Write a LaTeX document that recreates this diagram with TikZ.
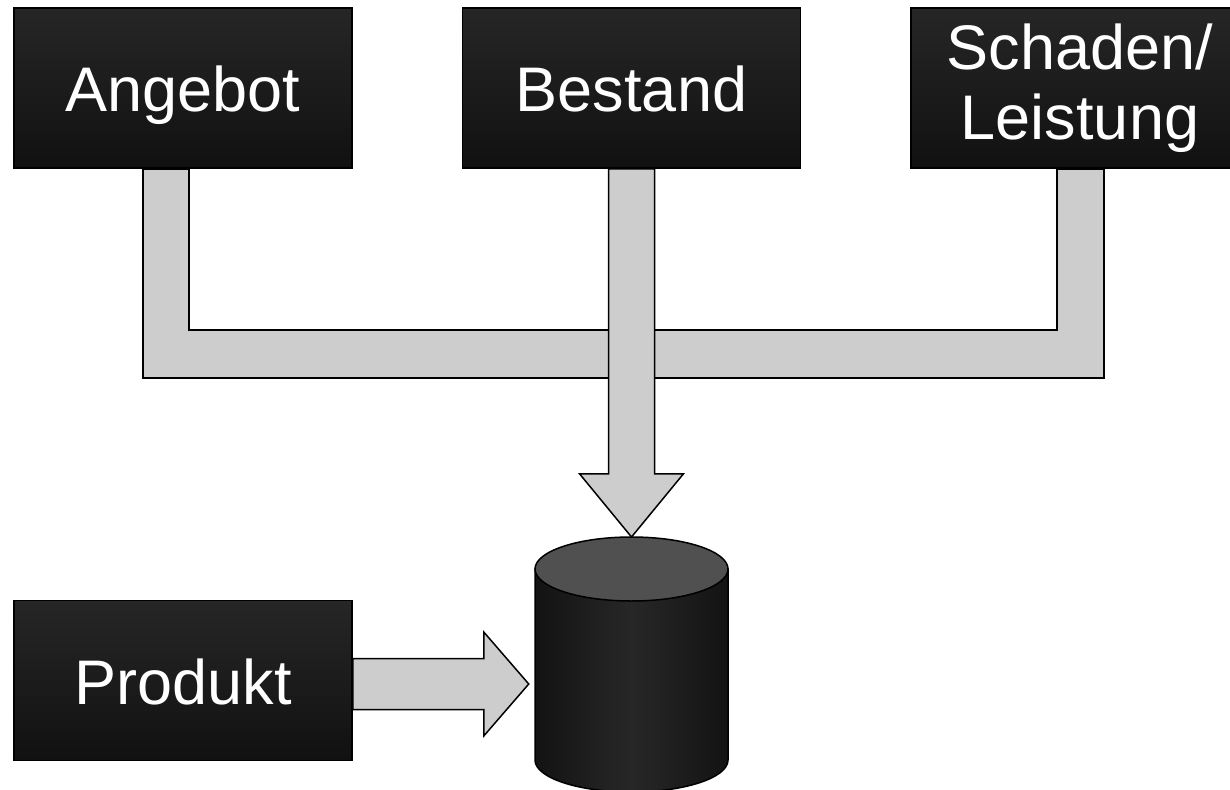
\documentclass[tikz,border=0pt]{standalone}
\usepackage{fontspec}
\setmainfont{Liberation Sans}
\usetikzlibrary{calc,backgrounds}

\definecolor{boxtop}{HTML}{262626}
\definecolor{boxbottom}{HTML}{111111}
\definecolor{flowgrey}{HTML}{CDCDCD}
\definecolor{cylside}{HTML}{131313}
\definecolor{cylmid}{HTML}{272727}
\definecolor{cyllid}{HTML}{505050}

\begin{document}
\begin{tikzpicture}[x=1pt,y=-1pt,
  darkbox/.style={draw=black,line width=1.5pt,top color=boxtop,bottom color=boxbottom,
    text=white,minimum width=338pt,minimum height=160pt,inner sep=0pt,align=center,
    font=\fontsize{63}{70}\selectfont},
  oneline/.style={text height=50pt,text depth=2pt},
  flow/.style={draw=black,line width=1.5pt,fill=flowgrey,line join=miter},
  cylbody/.style={draw=black,line width=1.5pt,left color=cylside,right color=cylside,middle color=cylmid},
  cyltop/.style={draw=black,line width=1.5pt,fill=cyllid}]

\useasboundingbox (0,0) rectangle (1230,789);
\clip (0,0) rectangle (1230,789);

% source systems
\node[darkbox,oneline] (ang)  at (183,88)    {Angebot};
\node[darkbox,oneline] (bes)  at (631.5,88)  {Bestand};
\node[darkbox]         (sch)  at (1080,88)   {Schaden/\\Leistung};
\node[darkbox,oneline] (prod) at (183,680.5) {Produkt};

% database cylinder
\coordinate (db) at (631.5,569);
\coordinate (dbtop) at ($(db)+(0,-32)$);
\draw[cylbody] ($(db)+(-96.5,0)$) -- ++(0,191)
  arc[start angle=180,end angle=0,x radius=96.5,y radius=32]
  -- ($(db)+(96.5,0)$) -- cycle;
\draw[cyltop] (db) ellipse[x radius=96.5,y radius=32];

\begin{scope}[on background layer]
  % collecting bus from Angebot and Schaden/Leistung
  \draw[flow] ($(ang.south)+(-40,0)$) |- ($(sch.south)+(24,209)$)
    -- ($(sch.south)+(24,0)$) -- ($(sch.south)+(-23,0)$)
    |- ($(ang.south)+(6,161)$) -- ($(ang.south)+(6,0)$) -- cycle;
  % Bestand into the database
  \draw[flow] ($(bes.south)+(-23,0)$) -- ($(bes.south)+(-23,305)$)
    -- ($(bes.south)+(-52,305)$) -- (dbtop) -- ($(bes.south)+(52,305)$)
    -- ($(bes.south)+(23,305)$) -- ($(bes.south)+(23,0)$) -- cycle;
  % Produkt into the database
  \coordinate (pa) at ($(prod.east)+(0,3.5)$);
  \draw[flow] ($(pa)+(0,-25.5)$) -- ($(pa)+(131,-25.5)$) -- ($(pa)+(131,-52)$)
    -- ($(pa)+(176,0)$) -- ($(pa)+(131,52)$) -- ($(pa)+(131,25.5)$)
    -- ($(pa)+(0,25.5)$) -- cycle;
\end{scope}
\end{tikzpicture}
\end{document}
